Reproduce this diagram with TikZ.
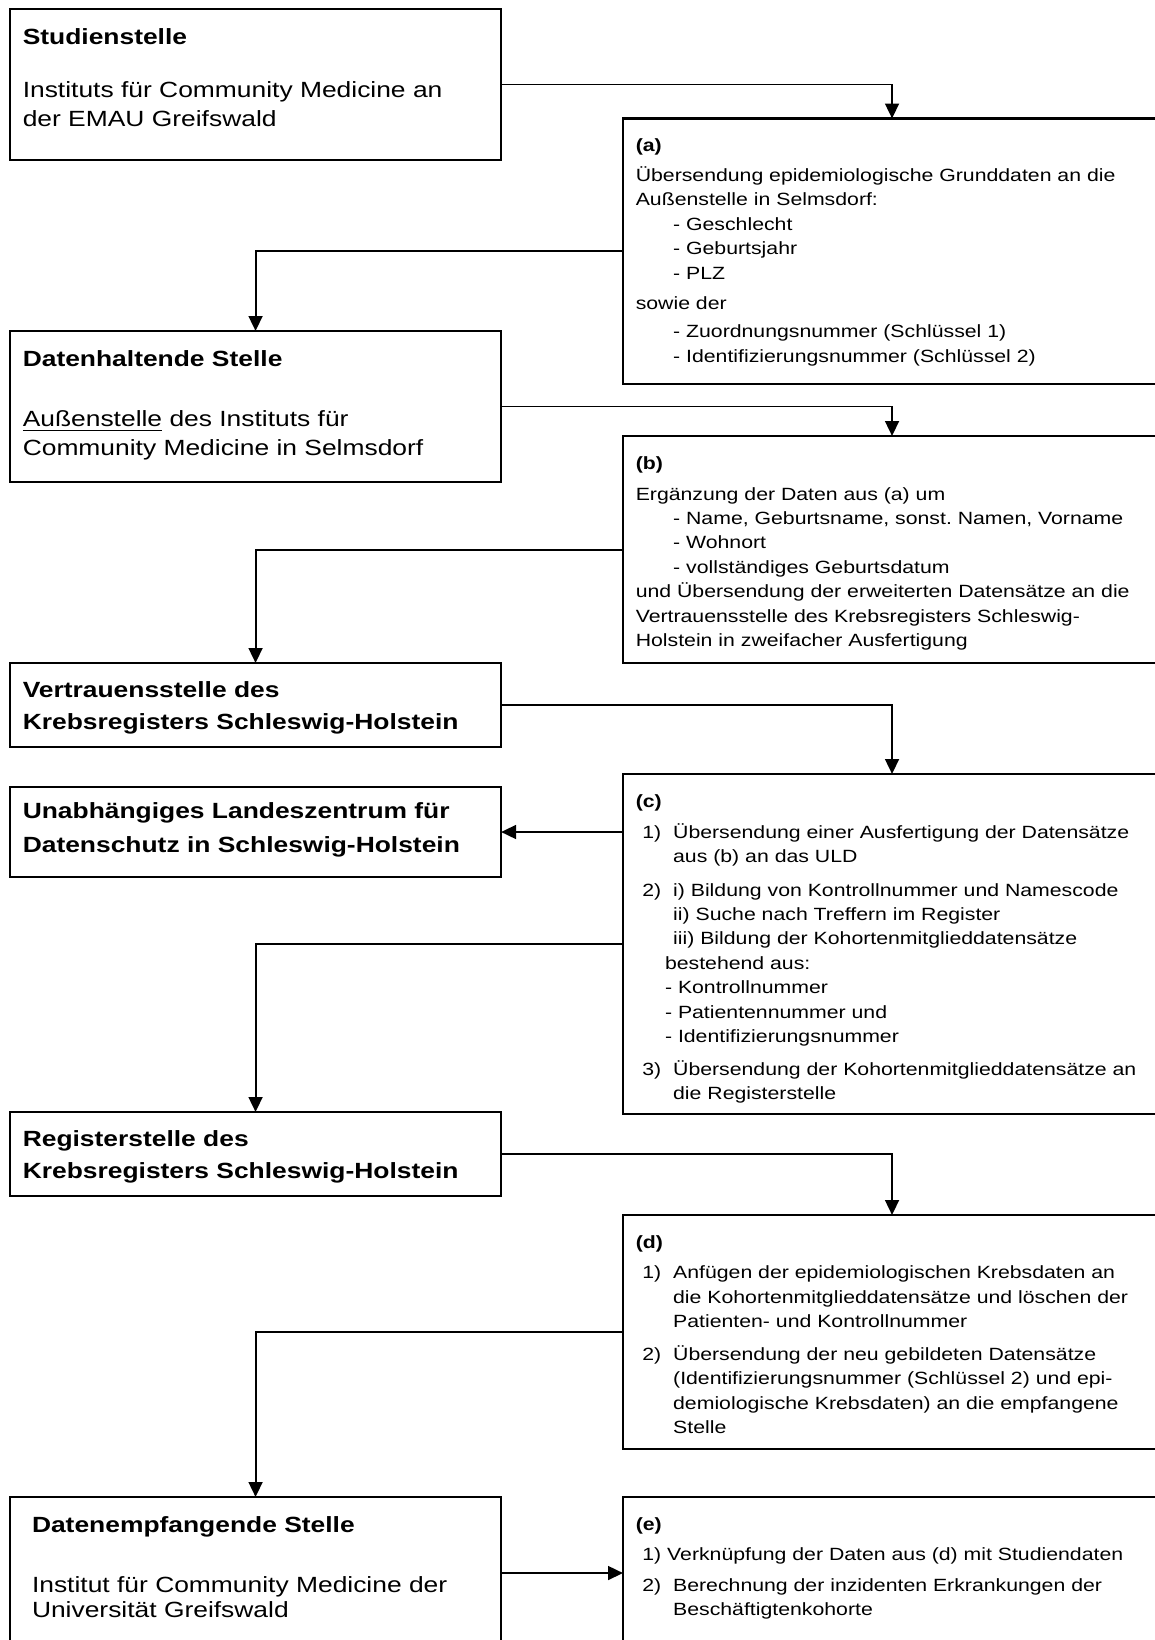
\documentclass[tikz,border=0pt]{standalone}
\usepackage{fontspec}
\setmainfont{Liberation Sans}[FakeStretch=1.2]
\usetikzlibrary{arrows.meta}
\frenchspacing

\newcommand{\lfont}{\fontsize{10}{13.2}\selectfont}
\newcommand{\rfont}{\fontsize{8.05}{11.1}\selectfont}
\newcommand{\nr}[1]{\hspace*{3pt}\makebox[14pt][l]{#1}}
\newcommand{\ein}{\hspace*{17pt}}

\begin{document}
\begin{tikzpicture}[x=0.4545pt,y=-0.4545pt,
  box/.style={draw,line width=1pt,rectangle,anchor=north west,outer sep=0pt,
    inner ysep=0pt,inner xsep=5.8pt,align=left},
  lbox/.style={box,text width=211.6pt,font=\lfont},
  rbox/.style={box,text width=232.95pt,font=\rfont},
  conn/.style={line width=0.9pt,-{Triangle[length=6.8pt,width=6.3pt]}}]

\useasboundingbox (0,0) rectangle (1154,1640);

% define nodes

% stellen

\node[lbox,text height=16.36pt,text depth=52.27pt] (stud) at (10,9)
  {\textbf{Studienstelle}\\[10.5pt]Instituts für Community Medicine an\\der EMAU Greifswald};
\node[lbox,text height=16.36pt,text depth=52.27pt] (halt) at (10,331)
  {\textbf{Datenhaltende Stelle}\\[14pt]\underline{Außenstelle} des Instituts für\\Community Medicine in Selmsdorf};
\node[lbox,font=\lfont\bfseries,text height=15.45pt,text depth=22.73pt] (vert) at (10,663)
  {Vertrauensstelle des\\[1.4pt]Krebsregisters Schleswig-Holstein};
\node[lbox,font=\lfont\bfseries,text height=14.09pt,text depth=26.82pt] (uld) at (10,787)
  {Unabhängiges Landeszentrum für\\[2.3pt]Datenschutz in Schleswig-Holstein};
\node[lbox,font=\lfont\bfseries,text height=15.45pt,text depth=22.73pt] (reg) at (10,1112)
  {Registerstelle des\\[1.4pt]Krebsregisters Schleswig-Holstein};
\node[lbox,inner xsep=10pt,text width=203.2pt,text height=15.9pt,text depth=53.2pt] (empf) at (10,1497)
  {\textbf{Datenempfangende Stelle}\\[14.1pt]Institut für Community Medicine der\\[-1.8pt]Universität Greifswald};

% schritte

\node[rbox,text height=15pt,text depth=105.6pt] (ta) at (623,118.5)
  {\textbf{(a)}\\[2.5pt]
   Übersendung epidemiologische Grunddaten an die\\
   Außenstelle in Selmsdorf:\\
   \ein- Geschlecht\\
   \ein- Geburtsjahr\\
   \ein- PLZ\\[2.5pt]
   sowie der\\[2pt]
   \ein- Zuordnungsnummer (Schlüssel 1)\\
   \ein- Identifizierungsnummer (Schlüssel 2)};
\node[rbox,text height=15pt,text depth=88.2pt] (tb) at (623,436)
  {\textbf{(b)}\\[3pt]
   Ergänzung der Daten aus (a) um\\
   \ein- Name, Geburtsname, sonst. Namen, Vorname\\
   \ein- Wohnort\\
   \ein- vollständiges Geburtsdatum\\
   und Übersendung der erweiterten Datensätze an die\\
   Vertrauensstelle des Krebsregisters Schleswig-\\
   Holstein in zweifacher Ausfertigung};
\node[rbox,text height=15pt,text depth=139.5pt] (tc) at (623,774)
  {\textbf{(c)}\\[3.2pt]
   \nr{1)}Übersendung einer Ausfertigung der Datensätze\\
   \ein aus (b) an das ULD\\[4pt]
   \nr{2)}i) Bildung von Kontrollnummer und Namescode\\
   \ein ii) Suche nach Treffern im Register\\
   \ein iii) Bildung der Kohortenmitglieddatensätze\\
   \hspace*{13.3pt}bestehend aus:\\
   \hspace*{13.3pt}- Kontrollnummer\\
   \hspace*{13.3pt}- Patientennummer und\\
   \hspace*{13.3pt}- Identifizierungsnummer\\[3.6pt]
   \nr{3)}Übersendung der Kohortenmitglieddatensätze an\\
   \ein die Registerstelle};
\node[rbox,text height=15pt,text depth=91.4pt] (td) at (623,1215)
  {\textbf{(d)}\\[2.8pt]
   \nr{1)}Anfügen der epidemiologischen Krebsdaten an\\
   \ein die Kohortenmitglieddatensätze und löschen der\\
   \ein Patienten- und Kontrollnummer\\[3.9pt]
   \nr{2)}Übersendung der neu gebildeten Datensätze\\
   \ein (Identifizierungsnummer (Schlüssel 2) und epi-\\
   \ein demiologische Krebsdaten) an die empfangene\\
   \ein Stelle};
\node[rbox,text height=15.2pt,text depth=53.9pt] (te) at (623,1497)
  {\textbf{(e)}\\[2.5pt]
   \hspace*{3pt}1) Verknüpfung der Daten aus (d) mit Studiendaten\\[3pt]
   \nr{2)}Berechnung der inzidenten Erkrankungen der\\
   \ein Beschäftigtenkohorte};

% edges

\draw[conn] (stud.east) -| (ta.north);
\draw[conn] (ta.west) -| (halt.north);
\draw[conn] (halt.east) -| (tb.north);
\draw[conn] (tb.west) -| (vert.north);
\draw[conn] (vert.east) -| (tc.north);
\draw[conn] (tc.west |- uld.east) -- (uld.east);
\draw[conn] (tc.west) -| (reg.north);
\draw[conn] (reg.east) -| (td.north);
\draw[conn] (td.west) -| (empf.north);
\draw[conn] (empf.east) -- (te.west);

\end{tikzpicture}
\end{document}
